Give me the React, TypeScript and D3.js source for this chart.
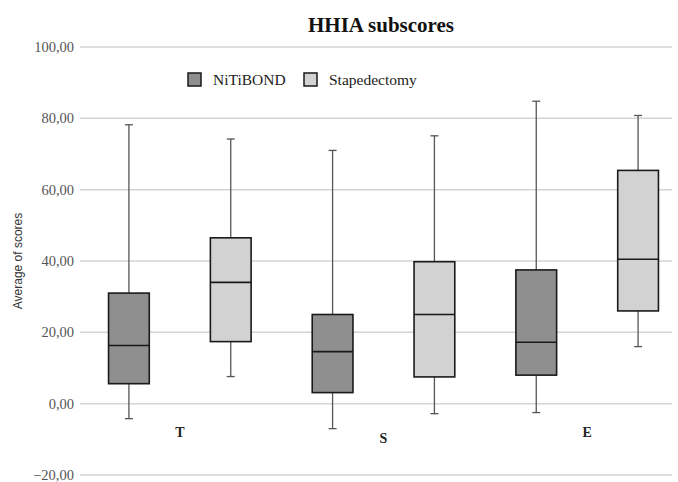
import React from "react";
import * as d3 from "d3";

const categories = ["T", "S", "E"];
const seriesNames = ["NiTiBOND", "Stapedectomy"];
// [min, q1, median, q3, max] per category
const nitibond = [
  [-4.2, 5.6, 16.3, 31.0, 78.2],
  [-7.0, 3.1, 14.6, 25.0, 71.0],
  [-2.5, 8.0, 17.2, 37.5, 84.8],
];
const stapedectomy = [
  [7.6, 17.4, 34.0, 46.5, 74.2],
  [-2.8, 7.5, 25.0, 39.8, 75.1],
  [16.0, 26.0, 40.5, 65.4, 80.8],
];
const yTicks = [-20, 0, 20, 40, 60, 80, 100];
const colors = ["#8f8f8f", "#d2d2d2"];

const W = 678;
const H = 482;

export default function App() {
  const y = d3.scaleLinear().domain([-20, 100]).range([475, 47]);
  const x = d3.scaleBand<string>().domain(categories).range([78, 689]).paddingInner(0).paddingOuter(0);
  const sub = d3.scaleBand<string>().domain(seriesNames).range([0, x.bandwidth()]).paddingInner(0.6).paddingOuter(0.3);
  const fmt = (v: number) => d3.format(".2f")(v).replace(".", ",");
  const series = [nitibond, stapedectomy];
  const bw = sub.bandwidth();

  return (
    <div style={{ position: "absolute", left: 0, top: 0 }}>
      <svg width={W} height={H} style={{ display: "block", background: "#fff" }}>
        <text x={381} y={32} textAnchor="middle" fontFamily="Liberation Serif, serif" fontWeight="bold" fontSize={21} fill="#111">
          HHIA subscores
        </text>
        {yTicks.map((t) => (
          <g key={t}>
            <line x1={80} x2={672} y1={y(t)} y2={y(t)} stroke="#d4d4d4" strokeWidth={1.5} />
            <text x={74} y={y(t) + 5} textAnchor="end" fontFamily="Liberation Serif, serif" fontSize={14.5} fill="#555">
              {fmt(t)}
            </text>
          </g>
        ))}
        <text
          transform={`translate(22,${261}) rotate(-90)`}
          textAnchor="middle"
          fontFamily="Liberation Sans, Arial, sans-serif"
          fontSize={12}
          fill="#333"
        >
          Average of scores
        </text>
        {categories.map((c, ci) => (
          <g key={c}>
            {series.map((s, si) => {
              const [mn, q1, md, q3, mx] = s[ci];
              const x0 = (x(c) ?? 0) + (sub(seriesNames[si]) ?? 0);
              const cx = x0 + bw / 2;
              return (
                <g key={si}>
                  <line x1={cx} x2={cx} y1={y(mx)} y2={y(q3)} stroke="#555" strokeWidth={1.3} />
                  <line x1={cx} x2={cx} y1={y(q1)} y2={y(mn)} stroke="#555" strokeWidth={1.3} />
                  <line x1={cx - 4} x2={cx + 4} y1={y(mx)} y2={y(mx)} stroke="#555" strokeWidth={1.3} />
                  <line x1={cx - 4} x2={cx + 4} y1={y(mn)} y2={y(mn)} stroke="#555" strokeWidth={1.3} />
                  <rect x={x0} y={y(q3)} width={bw} height={y(q1) - y(q3)} fill={colors[si]} stroke="#1a1a1a" strokeWidth={1.6} />
                  <line x1={x0} x2={x0 + bw} y1={y(md)} y2={y(md)} stroke="#1a1a1a" strokeWidth={1.6} />
                </g>
              );
            })}
            <text
              x={(x(c) ?? 0) + x.bandwidth() / 2}
              y={ci === 1 ? 443 : 437}
              textAnchor="middle"
              fontFamily="Liberation Serif, serif"
              fontWeight="bold"
              fontSize={14}
              fill="#222"
            >
              {c}
            </text>
          </g>
        ))}
        {seriesNames.map((n, i) => {
          const lx = i === 0 ? 188 : 304;
          return (
            <g key={n}>
              <rect x={lx} y={73} width={13} height={13} fill={colors[i]} stroke="#1a1a1a" strokeWidth={1.5} />
              <text x={lx + 25} y={85} fontFamily="Liberation Serif, serif" fontSize={15.5} fill="#222">
                {n}
              </text>
            </g>
          );
        })}
      </svg>
    </div>
  );
}
